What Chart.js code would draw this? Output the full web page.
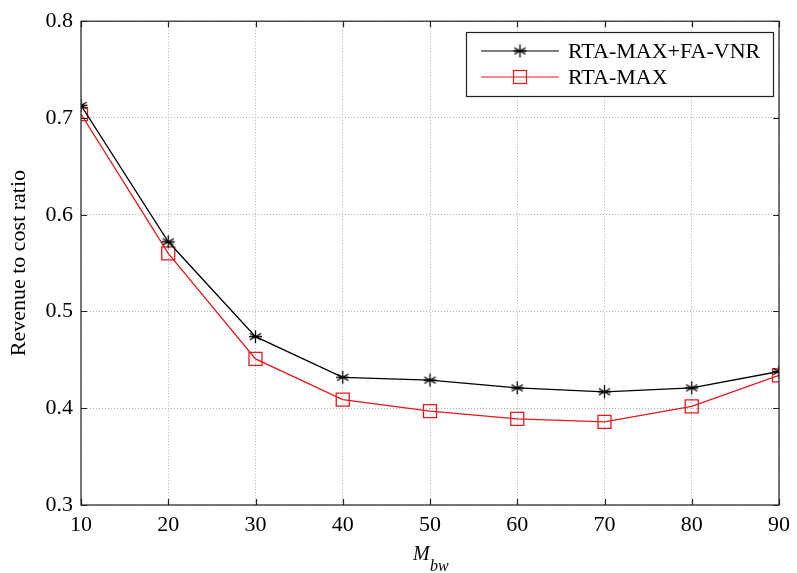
<!DOCTYPE html>
<html>
<head>
<meta charset="utf-8">
<script src="https://cdn.jsdelivr.net/npm/chart.js@4"></script>
<style>
html,body{margin:0;padding:0;background:#fff;}
#wrap{width:797px;height:573px;position:relative;}
</style>
</head>
<body>
<div id="wrap"><canvas id="myChart" width="797" height="573"></canvas></div>
<script>
const mbw=[10,20,30,40,50,60,70,80,90];
const fullData=[0.713,0.572,0.474,0.432,0.429,0.421,0.417,0.421,0.438];
const maxData=[0.704,0.560,0.451,0.409,0.397,0.389,0.386,0.402,0.434];
const xTicks=[10,20,30,40,50,60,70,80,90];
const yTicks=[0.3,0.4,0.5,0.6,0.7,0.8];
const seriesNames=["RTA-MAX+FA-VNR","RTA-MAX"];

const serif="'Liberation Serif','Times New Roman',serif";
const red="#e3191c";

// asterisk marker like matlab '*'
function makeStar(){
    const c=document.createElement("canvas");
    c.width=15;c.height=15;
    const g=c.getContext("2d");
    g.strokeStyle="#000";g.lineWidth=1.3;
    const r=6.5;
    g.beginPath();
    for(let a=0;a<3;a++){
        const ang=Math.PI/2+a*Math.PI/3;
        g.moveTo(7.5+r*Math.cos(ang),7.5-r*Math.sin(ang));
        g.lineTo(7.5-r*Math.cos(ang),7.5+r*Math.sin(ang));
    }
    g.moveTo(1,7.5);g.lineTo(14,7.5);
    g.stroke();
    return c;
}
const star=makeStar();

// frame, inner ticks, legend, x title
const framePlugin={
    id:"frame",
    afterDatasetsDraw(chart){
        const ctx=chart.ctx;
        const a=chart.chartArea;
        const xs=chart.scales.x, ys=chart.scales.y;
        ctx.save();
        ctx.strokeStyle="#222";
        ctx.lineWidth=1.2;
        ctx.strokeRect(a.left,a.top,a.right-a.left,a.bottom-a.top);
        ctx.beginPath();
        const t=6;
        xTicks.forEach(v=>{
            const px=Math.round(xs.getPixelForValue(v))+0.5;
            ctx.moveTo(px,a.bottom);ctx.lineTo(px,a.bottom-t);
            ctx.moveTo(px,a.top);ctx.lineTo(px,a.top+t);
        });
        yTicks.forEach(v=>{
            const py=Math.round(ys.getPixelForValue(v))+0.5;
            ctx.moveTo(a.left,py);ctx.lineTo(a.left+t,py);
            ctx.moveTo(a.right,py);ctx.lineTo(a.right-t,py);
        });
        ctx.stroke();

        // legend box
        const lx=466, ly=32, lw=307, lh=64;
        ctx.fillStyle="#fff";
        ctx.fillRect(lx,ly,lw,lh);
        ctx.strokeStyle="#222";
        ctx.lineWidth=1.2;
        ctx.strokeRect(lx+0.5,ly+0.5,lw,lh);
        const rows=[51,77];
        ctx.font="22px "+serif;
        ctx.textBaseline="middle";
        ctx.textAlign="left";
        // row 1
        ctx.strokeStyle="#000";ctx.lineWidth=1.2;
        ctx.beginPath();ctx.moveTo(481,rows[0]);ctx.lineTo(559,rows[0]);ctx.stroke();
        ctx.drawImage(star,520-7.5,rows[0]-7.5);
        ctx.fillStyle="#000";
        ctx.fillText(seriesNames[0],568,rows[0]+1);
        // row 2
        ctx.strokeStyle=red;
        ctx.beginPath();ctx.moveTo(481,rows[1]);ctx.lineTo(559,rows[1]);ctx.stroke();
        ctx.strokeRect(513.5,rows[1]-6.5,13,13);
        ctx.fillText(seriesNames[1],568,rows[1]+1);

        // x title M_bw
        ctx.fillStyle="#000";
        ctx.textBaseline="alphabetic";
        ctx.font="italic 20px "+serif;
        ctx.fillText("M",413,560);
        ctx.font="italic 16px "+serif;
        ctx.fillText("bw",430,571);
        ctx.restore();
    }
};

new Chart("myChart",{
    type:"line",
    data:{
        datasets:[{
            label:seriesNames[0],
            data:mbw.map((x,i)=>({x:x,y:fullData[i]})),
            borderColor:"#000",
            borderWidth:1.3,
            pointStyle:star,
            pointRadius:7,
            lineTension:0
        },{
            label:seriesNames[1],
            data:mbw.map((x,i)=>({x:x,y:maxData[i]})),
            borderColor:red,
            borderWidth:1.3,
            pointStyle:"rect",
            pointRadius:9.2,
            pointBorderWidth:1.3,
            pointBorderColor:red,
            pointBackgroundColor:"rgba(0,0,0,0)",
            lineTension:0
        }]
    },
    options:{
        responsive:false,
        animation:false,
        layout:{padding:{left:0,top:18,right:11,bottom:0}},
        plugins:{legend:{display:false},title:{display:false},tooltip:{enabled:false}},
        scales:{
            x:{
                type:"linear",min:10,max:90,
                afterBuildTicks(s){s.ticks=xTicks.map(v=>({value:v}));},
                afterFit(s){s.height=68;},
                grid:{color:"#b0b0b0",lineWidth:1,drawTicks:false},
                border:{display:false,dash:[1,2]},
                ticks:{color:"#000",padding:7,font:{family:serif,size:22},maxRotation:0}
            },
            y:{
                min:0.3,max:0.8,
                afterBuildTicks(s){s.ticks=yTicks.map(v=>({value:v}));},
                afterFit(s){s.width=81;},
                grid:{color:"#b0b0b0",lineWidth:1,drawTicks:false},
                border:{display:false,dash:[1,2]},
                ticks:{color:"#000",padding:8,font:{family:serif,size:22},callback:v=>v.toFixed(1)},
                title:{display:true,text:"Revenue to cost ratio",color:"#000",font:{family:serif,size:22},padding:{top:6,bottom:4}}
            }
        }
    },
    plugins:[framePlugin]
});
</script>
</body>
</html>
